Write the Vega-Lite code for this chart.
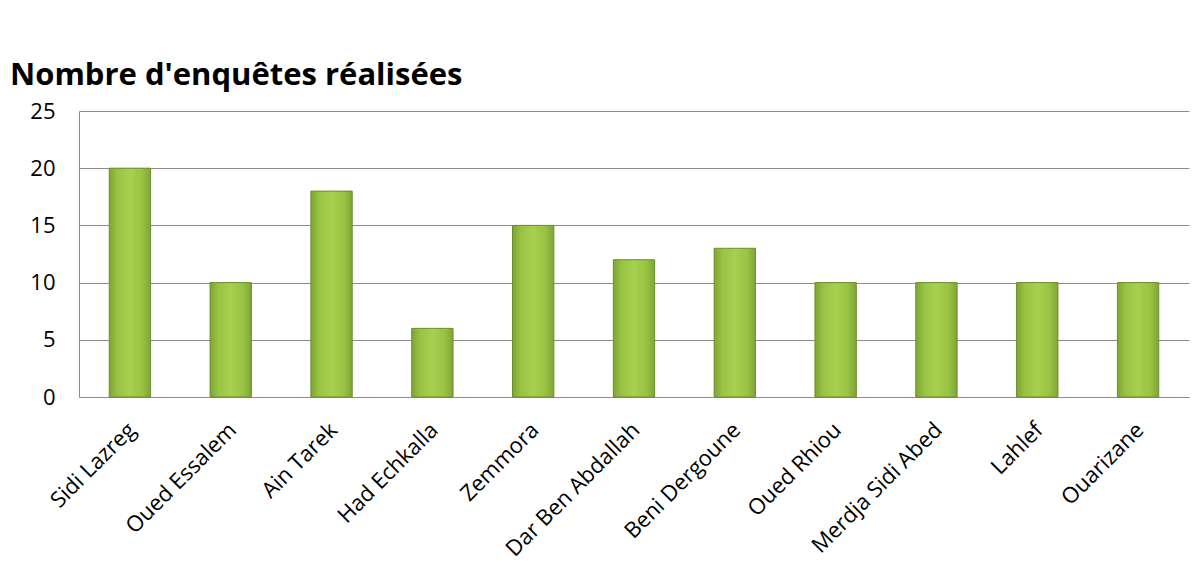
{
  "$schema": "https://vega.github.io/schema/vega-lite/v6.json",
  "width": 1110,
  "height": 286,
  "autosize": {"type": "none"},
  "padding": {"left": 79, "top": 111, "right": 15, "bottom": 182},
  "background": "white",
  "title": {
    "text": "Nombre d'enquêtes réalisées",
    "anchor": "start",
    "frame": "group",
    "dx": -69,
    "dy": 42,
    "offset": 26,
    "baseline": "alphabetic",
    "font": "Open Sans",
    "fontSize": 31,
    "fontWeight": "bold",
    "color": "#000000"
  },
  "data": {
    "values": [
      {"commune": "Sidi Lazreg", "enquetes": 20},
      {"commune": "Oued Essalem", "enquetes": 10},
      {"commune": "Ain Tarek", "enquetes": 18},
      {"commune": "Had Echkalla", "enquetes": 6},
      {"commune": "Zemmora", "enquetes": 15},
      {"commune": "Dar Ben Abdallah", "enquetes": 12},
      {"commune": "Beni Dergoune", "enquetes": 13},
      {"commune": "Oued Rhiou", "enquetes": 10},
      {"commune": "Merdja Sidi Abed", "enquetes": 10},
      {"commune": "Lahlef", "enquetes": 10},
      {"commune": "Ouarizane", "enquetes": 10}
    ]
  },
  "mark": {
    "type": "bar",
    "stroke": "#6b8e2a",
    "strokeWidth": 1,
    "color": {
      "gradient": "linear",
      "x1": 0, "x2": 1, "y1": 0, "y2": 0,
      "stops": [
        {"offset": 0, "color": "#7fa535"},
        {"offset": 0.2, "color": "#98c344"},
        {"offset": 0.5, "color": "#a6d04e"},
        {"offset": 0.8, "color": "#98c344"},
        {"offset": 1, "color": "#7fa535"}
      ]
    }
  },
  "encoding": {
    "x": {
      "field": "commune",
      "type": "nominal",
      "sort": null,
      "scale": {"paddingInner": 0.59, "paddingOuter": 0.3},
      "axis": {
        "title": null,
        "labelAngle": -45,
        "labelAlign": "right",
        "labelBaseline": "top",
        "labelFont": "Open Sans",
        "labelFontSize": 22,
        "labelColor": "#000000",
        "labelPadding": 22,
        "labelOffset": -5,
        "labelOverlap": false,
        "ticks": false,
        "domain": true,
        "domainColor": "#8c8c8c",
        "grid": false
      }
    },
    "y": {
      "field": "enquetes",
      "type": "quantitative",
      "scale": {"domain": [0, 25], "nice": false},
      "axis": {
        "title": null,
        "values": [0, 5, 10, 15, 20, 25],
        "labelFont": "Open Sans",
        "labelFontSize": 22,
        "labelColor": "#000000",
        "labelPadding": 24,
        "ticks": false,
        "domain": true,
        "domainColor": "#8c8c8c",
        "grid": true,
        "gridColor": "#8c8c8c",
        "gridOpacity": 1
      }
    }
  },
  "config": {"view": {"stroke": null}}
}
